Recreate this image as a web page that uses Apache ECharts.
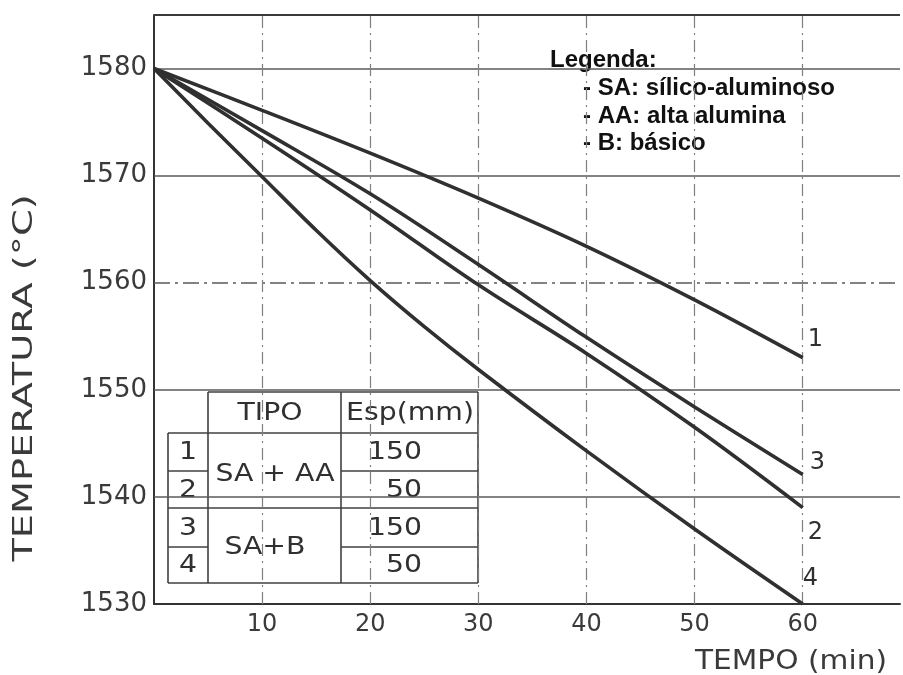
<!DOCTYPE html>
<html>
<head>
<meta charset="utf-8">
<script src="https://cdn.jsdelivr.net/npm/echarts@6/dist/echarts.min.js"></script>
<style>
  html, body { margin: 0; padding: 0; background: #ffffff; }
  #chart { width: 903px; height: 675px; }
</style>
</head>
<body>
<div id="chart"></div>
<script>
// Cooling curves of liquid steel in the ladle (temperature in °C vs. time in min)
const timeMin = [0, 10, 20, 30, 40, 50, 60];
const curve1 = [1580, 1576.1, 1572.1, 1567.9, 1563.4, 1558.4, 1553.0];
const curve2 = [1580, 1573.5, 1566.8, 1559.8, 1553.4, 1546.5, 1539.0];
const curve3 = [1580, 1574.2, 1568.3, 1561.7, 1554.9, 1548.4, 1542.1];
const curve4Time = [0, 5, 10, 15, 20, 25, 30, 40, 50, 60];
const curve4 = [1580, 1574.9, 1569.9, 1564.9, 1560.2, 1555.9, 1551.9, 1544.3, 1537.0, 1530];
const curveNames = ['1', '2', '3', '4'];

const tempTicks = [1530, 1540, 1550, 1560, 1570, 1580];
const timeTicks = [10, 20, 30, 40, 50, 60];
const tempTop = 1585;
const dashedTemps = [1560];

const xTitle = 'TEMPO (min)';
const yTitle = 'TEMPERATURA (°C)';

const tableHeader = ['TIPO', 'Esp(mm)'];
const tableNumbers = ['1', '2', '3', '4'];
const tableTypes = ['SA + AA', 'SA+B'];
const tableThickness = ['150', '50', '150', '50'];

const legendTitle = 'Legenda:';
const legendLines = ['- SA: sílico-aluminoso', '- AA: alta alumina', '- B: básico'];

const pairs = (xs, ys) => xs.map((x, i) => [x, ys[i]]);

const INK = '#303030';
const GRID = '#5a5a5a';
const DRAW_FONT = 'DejaVu Sans';

// end-label offsets for the curve numbers
const endOffsets = {
  '1': [0, -18],
  '2': [0, 25],
  '3': [2, -12],
  '4': [-5, -25]
};

function curveSeries(name, data) {
  return {
    name: name,
    type: 'line',
    data: data,
    smooth: 0.35,
    symbol: 'none',
    z: 5,
    lineStyle: { color: INK, width: 3.6 },
    endLabel: {
      show: true,
      formatter: name,
      color: INK,
      fontSize: 24,
      fontFamily: DRAW_FONT,
      distance: 5,
      offset: endOffsets[name]
    }
  };
}

// reference lines (grid) drawn through the axes
const gridLines = [];
tempTicks.filter(v => v !== tempTicks[0]).forEach(v => {
  const dashed = dashedTemps.includes(v);
  gridLines.push({
    yAxis: v,
    lineStyle: {
      color: GRID,
      width: 1.5,
      type: dashed ? [16, 5, 3, 5] : 'solid'
    }
  });
});
gridLines.push({ yAxis: tempTop, lineStyle: { color: '#3a3a3a', width: 2, type: 'solid' } });
timeTicks.forEach(v => {
  gridLines.push({
    xAxis: v,
    lineStyle: { color: '#808080', width: 1.2, type: [12, 5, 2, 5] }
  });
});

const series = [
  curveSeries(curveNames[0], pairs(timeMin, curve1)),
  curveSeries(curveNames[1], pairs(timeMin, curve2)),
  curveSeries(curveNames[2], pairs(timeMin, curve3)),
  curveSeries(curveNames[3], pairs(curve4Time, curve4))
];
series[0].markLine = {
  silent: true,
  symbol: 'none',
  label: { show: false },
  animation: false,
  data: gridLines
};

// ---- inset table (type / thickness) ----
const colX = [168, 208, 341, 478];
const rowY = [392, 433, 471, 508, 547, 583];
const tableLineStyle = { stroke: '#404040', lineWidth: 1.6 };
const tableElems = [];
tableElems.push({ type: 'rect', shape: { x: colX[1], y: rowY[0], width: colX[3] - colX[1], height: rowY[1] - rowY[0] }, style: { fill: '#fff' } });
tableElems.push({ type: 'rect', shape: { x: colX[0], y: rowY[1], width: colX[3] - colX[0], height: rowY[5] - rowY[1] }, style: { fill: '#fff' } });
const seg = (x1, y1, x2, y2) => tableElems.push({ type: 'line', shape: { x1, y1, x2, y2 }, style: tableLineStyle });
seg(colX[1], rowY[0], colX[3], rowY[0]);
seg(colX[0], rowY[1], colX[3], rowY[1]);
seg(colX[0], rowY[2], colX[1], rowY[2]);
seg(colX[2], rowY[2], colX[3], rowY[2]);
seg(colX[0], rowY[3], colX[3], rowY[3]);
seg(colX[0], rowY[4], colX[1], rowY[4]);
seg(colX[2], rowY[4], colX[3], rowY[4]);
seg(colX[0], rowY[5], colX[3], rowY[5]);
seg(colX[0], rowY[1], colX[0], rowY[5]);
seg(colX[1], rowY[0], colX[1], rowY[5]);
seg(colX[2], rowY[0], colX[2], rowY[5]);
seg(colX[3], rowY[0], colX[3], rowY[5]);

const cellText = (text, x, y, align) => tableElems.push({
  type: 'text',
  x: x, y: y,
  scaleX: 1.18,
  style: {
    text: text,
    font: '24px "' + DRAW_FONT + '"',
    fill: INK,
    align: align || 'center',
    verticalAlign: 'middle'
  }
});
cellText(tableHeader[0], 270, 414);
cellText(tableHeader[1], 410, 414);
tableNumbers.forEach((t, i) => cellText(t, 188, (rowY[i + 1] + rowY[i + 2]) / 2 + 1));
cellText(tableTypes[0], 275, 475);
cellText(tableTypes[1], 265, 548);
tableThickness.forEach((t, i) => cellText(t, 422, (rowY[i + 1] + rowY[i + 2]) / 2 + 1, 'right'));

// ---- legend box ----
const LEGEND_FONT = 'bold 24px "Liberation Sans", Arial, sans-serif';
const legendElems = [
  { type: 'rect', shape: { x: 530, y: 35, width: 337, height: 145 }, style: { fill: '#fff' } },
  { type: 'text', x: 550, y: 60, style: { text: legendTitle, font: LEGEND_FONT, fill: '#111', verticalAlign: 'middle' } }
];
legendLines.forEach((t, i) => legendElems.push({
  type: 'text', x: 583, y: 88.5 + i * 27.5,
  style: { text: t, font: LEGEND_FONT, fill: '#111', verticalAlign: 'middle' }
}));

// ---- axis titles ----
const titleElems = [
  { type: 'text', x: 887, y: 662, scaleX: 1.14, style: { text: xTitle, font: '26px "' + DRAW_FONT + '"', fill: '#3a3a3a', align: 'right', verticalAlign: 'middle' } },
  { type: 'text', x: 25, y: 378, rotation: Math.PI / 2, scaleX: 1.42, style: { text: yTitle, font: '27px "' + DRAW_FONT + '"', fill: '#3a3a3a', align: 'center', verticalAlign: 'middle' } }
];

const chart = echarts.init(document.getElementById('chart'), null, { renderer: 'canvas' });
chart.setOption({
  animation: false,
  backgroundColor: '#ffffff',
  grid: { left: 154, right: 0, top: 15, bottom: 71, containLabel: false },
  xAxis: {
    type: 'value',
    min: 0,
    max: 69,
    interval: 10,
    axisLine: { show: true, onZero: false, lineStyle: { color: '#333', width: 2 } },
    axisTick: { show: false },
    splitLine: { show: false },
    axisLabel: {
      margin: 9,
      color: '#3a3a3a',
      fontSize: 24,
      fontFamily: DRAW_FONT,
      formatter: v => (timeTicks.includes(v) ? String(v) : '')
    }
  },
  yAxis: {
    type: 'value',
    min: tempTicks[0],
    max: tempTop,
    interval: 10,
    axisLine: { show: true, lineStyle: { color: '#333', width: 2 } },
    axisTick: { show: false },
    splitLine: { show: false },
    axisLabel: {
      margin: 7,
      color: '#3a3a3a',
      fontSize: 26,
      fontFamily: DRAW_FONT,
      formatter: v => (tempTicks.includes(v) ? String(v) : '')
    }
  },
  series: series,
  graphic: { elements: [
    { type: 'group', z: 50, children: tableElems },
    { type: 'group', z: 50, children: legendElems },
    { type: 'group', z: 50, children: titleElems }
  ] }
});
</script>
</body>
</html>
